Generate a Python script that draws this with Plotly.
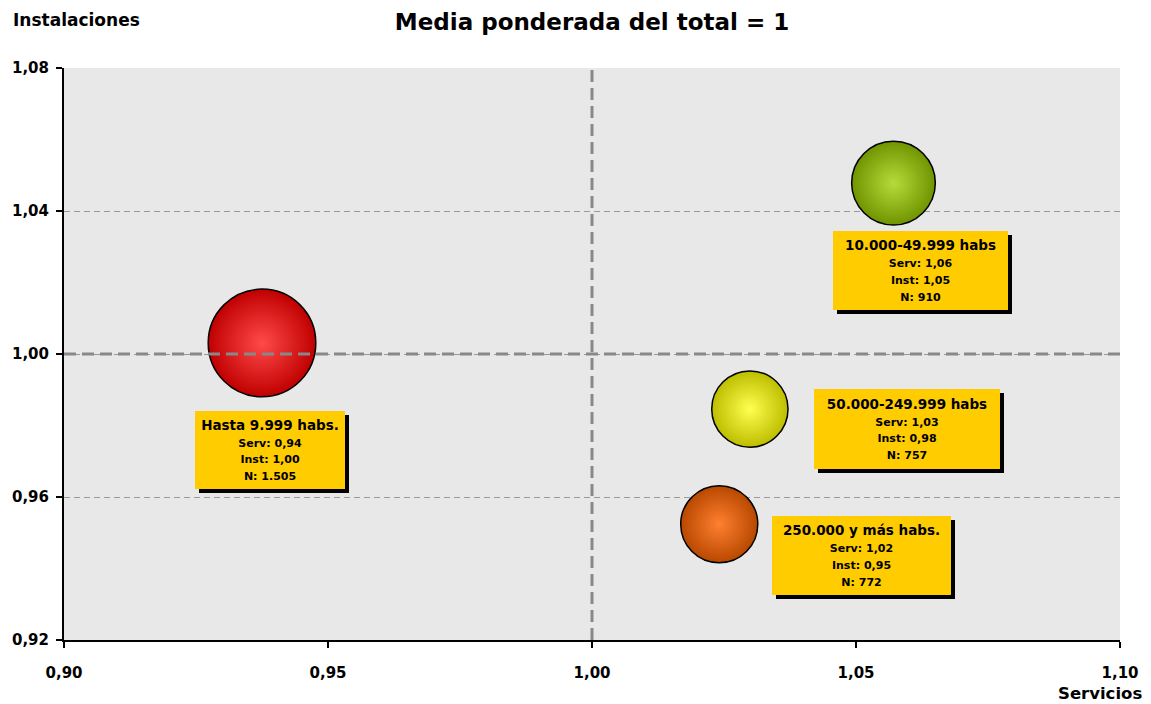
import plotly.graph_objects as go

# ---- data ----
categories = ["Hasta 9.999 habs.", "10.000-49.999 habs", "50.000-249.999 habs", "250.000 y más habs."]
servicios = [0.9375, 1.0571, 1.0299, 1.0241]
instalaciones = [1.0031, 1.0478, 0.9846, 0.9524]
n_values = [1505, 910, 757, 772]
reference_value = 1.0
x_ticks = [0.90, 0.95, 1.00, 1.05, 1.10]
y_ticks = [0.92, 0.96, 1.00, 1.04, 1.08]

# ---- styles ----
center_colors = ["#FF4A4A", "#B5DC3A", "#FFFF50", "#FF8030"]
edge_colors = ["#C00000", "#709400", "#BDBD00", "#B84800"]
# label box offsets (px) relative to bubble centre (x right, y up), and box sizes
box_dx = [8, 27, 157, 142]
box_dy = [-107, -87, -20, -31]
box_w = [150, 175, 186, 179]
box_h = [78, 79, 80, 79]

FONT = "DejaVu Sans"


def fmt_dec(v):
    return f"{v:.2f}".replace(".", ",")


def fmt_int(v):
    return f"{v:,}".replace(",", ".")


fig = go.Figure()

for i, cat in enumerate(categories):
    fig.add_trace(go.Scatter(
        x=[servicios[i]], y=[instalaciones[i]],
        mode="markers",
        marker=dict(
            size=[n_values[i]], sizemode="area", sizeref=0.26,
            color=edge_colors[i],
            gradient=dict(type="radial", color=center_colors[i]),
            line=dict(color="black", width=1.5),
            opacity=1,
        ),
        name=cat, showlegend=False, hoverinfo="skip",
    ))

shapes = [
    dict(type="line", xref="x", yref="y", x0=reference_value, x1=reference_value,
         y0=y_ticks[0], y1=y_ticks[-1], line=dict(color="#888888", width=3, dash="12px,6px"),
         layer="above"),
    dict(type="line", xref="x", yref="y", x0=x_ticks[0], x1=x_ticks[-1],
         y0=reference_value, y1=reference_value, line=dict(color="#888888", width=3, dash="12px,6px"),
         layer="above"),
]

annotations = []
for i, cat in enumerate(categories):
    text = (f"<b><span style='font-size:13.5px'>{cat}</span></b><br>"
            f"<b><span style='font-size:11px'>Serv: {fmt_dec(servicios[i])}</span></b><br>"
            f"<b><span style='font-size:11px'>Inst: {fmt_dec(instalaciones[i])}</span></b><br>"
            f"<b><span style='font-size:11px'>N: {fmt_int(n_values[i])}</span></b>")
    # shadow
    annotations.append(dict(
        x=servicios[i], y=instalaciones[i], xref="x", yref="y",
        text=text, showarrow=False, font=dict(family=FONT, size=13, color="black"),
        bgcolor="black", width=box_w[i], height=box_h[i], borderpad=0, borderwidth=0,
        xshift=box_dx[i] + 4, yshift=box_dy[i] - 4, valign="middle",
    ))
    annotations.append(dict(
        x=servicios[i], y=instalaciones[i], xref="x", yref="y",
        text=text, showarrow=False, font=dict(family=FONT, size=13, color="black"),
        bgcolor="#FFCC00", width=box_w[i], height=box_h[i], borderpad=0, borderwidth=0,
        xshift=box_dx[i], yshift=box_dy[i], valign="middle",
    ))

annotations.append(dict(
    x=0, xref="paper", y=1, yref="paper", xanchor="left", yanchor="middle",
    xshift=-53, yshift=48, text="<b>Instalaciones</b>", showarrow=False,
    font=dict(family=FONT, size=17, color="black"),
))
annotations.append(dict(
    x=1, xref="paper", y=0, yref="paper", xanchor="right", yanchor="middle",
    xshift=24, yshift=-53, text="<b>Servicios</b>", showarrow=False,
    font=dict(family=FONT, size=16.5, color="black"),
))

fig.update_layout(
    width=1151, height=704, autosize=False,
    margin=dict(l=64, r=25, t=68, b=64),
    paper_bgcolor="white", plot_bgcolor="#E8E8E8",
    separators=",.",
    title=dict(text="<b>Media ponderada del total = 1</b>", x=0.5, xref="paper",
               y=1 - 22 / 704, yref="container", xanchor="center", yanchor="middle",
               font=dict(family=FONT, size=23, color="black")),
    shapes=shapes, annotations=annotations,
    font=dict(family=FONT, color="black"),
)

fig.update_xaxes(
    range=[x_ticks[0], x_ticks[-1]], tickvals=x_ticks, tickformat=".2f",
    showgrid=False, zeroline=False,
    showline=True, linecolor="black", linewidth=2,
    ticks="outside", ticklen=6, tickwidth=2, tickcolor="black",
    tickfont=dict(family=FONT, size=15, color="black", weight="bold"),
    ticklabelstandoff=12,
)
fig.update_yaxes(
    range=[y_ticks[0], y_ticks[-1]], tickvals=y_ticks, tickformat=".2f",
    showgrid=True, gridcolor="#999999", gridwidth=1, griddash="6px,4px",
    zeroline=False,
    showline=True, linecolor="black", linewidth=2,
    ticks="outside", ticklen=6, tickwidth=2, tickcolor="black",
    tickfont=dict(family=FONT, size=15, color="black", weight="bold"),
    ticklabelstandoff=4,
)

fig.write_html(
    "out.html",
    config={"displayModeBar": False, "responsive": False},
    post_script=(
        "document.documentElement.style.margin='0';"
        "document.documentElement.style.overflow='hidden';"
        "document.body.style.margin='0';"
        "document.body.style.overflow='hidden';"
    ),
)
